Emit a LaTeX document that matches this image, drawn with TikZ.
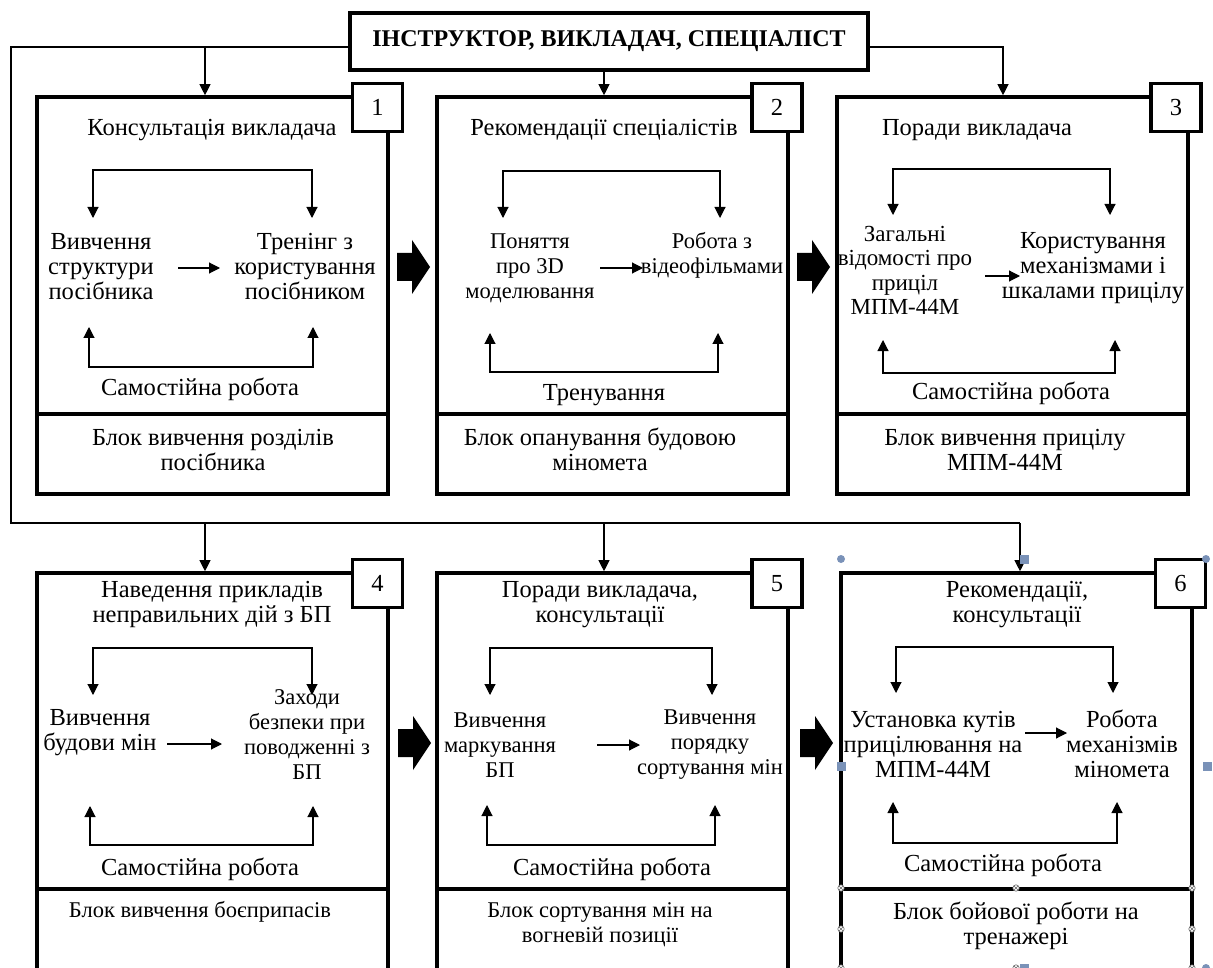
\documentclass[tikz,border=0pt]{standalone}
\usepackage{fontspec}
\setmainfont{Liberation Serif}
\usetikzlibrary{arrows.meta}
\newcommand\myfs{\fontsize{24.5}{25}\selectfont}
\newcommand\myfsb{\fontsize{22.5}{25}\selectfont}
\newcommand\myfsc{\fontsize{23}{24.3}\selectfont}
\newcommand\myfst{\fontsize{24}{25}\selectfont}
\definecolor{hcol}{RGB}{122,146,184}
\begin{document}
\begin{tikzpicture}[x=1pt,y=-1pt,
  thinl/.style={line width=1.1pt},
  arr/.style={thinl,-{Triangle[length=11pt,width=11pt]}},
  loopl/.style={thinl,{Triangle[length=11pt,width=11pt]}-{Triangle[length=11pt,width=11pt]}},
  bigbox/.style={draw,line width=3.6pt,minimum width=351pt,minimum height=397pt,inner sep=0pt},
  divl/.style={line width=3.6pt},
  numbox/.style={draw,line width=3.6pt,fill=white,minimum width=50pt,minimum height=48pt,inner sep=0pt,font=\myfs},
  txt/.style={font=\myfs,align=center,inner sep=0pt},
  txtb/.style={font=\myfsb,align=center,inner sep=0pt},
  txtc/.style={font=\myfsc,align=center,inner sep=0pt},
  titlebox/.style={draw,line width=3.6pt,minimum width=518pt,minimum height=57pt,inner sep=0pt,font=\myfst\bfseries},
  bigarrow/.style={fill=black},
  handle/.style={fill=hcol,draw=none},
  xhandle/.style={draw=black!60,fill=white,line width=0.6pt}
]
\useasboundingbox (0,0) rectangle (1213,968);
\newcommand\bigarr[2]{\fill[bigarrow] (#1,#2) ++(0,-14) -- ++(15,0) -- ++(0,-13) -- ++(18,27) -- ++(-18,27) -- ++(0,-13) -- ++(-15,0) -- cycle;}

% title
\node[titlebox] (title) at (609,41.5) {ІНСТРУКТОР, ВИКЛАДАЧ, СПЕЦІАЛІСТ};

% big boxes
\node[bigbox] (b1) at (212.5,295.5) {};
\node[bigbox] (b2) at (612.5,295.5) {};
\node[bigbox] (b3) at (1012.5,295.5) {};
\node[bigbox] (b4) at (212.5,771.5) {};
\node[bigbox] (b5) at (612.5,771.5) {};
\node[bigbox] (b6) at (1016.5,771.5) {};
\coordinate (dv1) at (0,414);
\coordinate (dv2) at (0,889);
\foreach \b in {b1,b2,b3} \draw[divl] (\b.west |- dv1) -- (\b.east |- dv1);
\foreach \b in {b4,b5,b6} \draw[divl] (\b.west |- dv2) -- (\b.east |- dv2);

% number boxes
\node[numbox] (n1) at (377.5,107.5) {1};
\node[numbox] (n2) at (777,107.5) {2};
\node[numbox] (n3) at (1176,107.5) {3};
\node[numbox] (n4) at (377.5,583.5) {4};
\node[numbox] (n5) at (777,583.5) {5};
\node[numbox] (n6) at (1180.5,583.5) {6};

% main connectors
\coordinate (cL) at (11,47);
\coordinate (cLB) at (11,523);
\coordinate (cR) at (1003,47);
\coordinate (c6) at (1020,523);
\coordinate (c1) at (205,47);
\coordinate (c2) at (604,70);
\coordinate (c4) at (205,523);
\coordinate (c5) at (604,523);
\draw[thinl] ([yshift=-5.5pt]title.west) -- (cL) -- (cLB) -- (c6);
\draw[arr] ([yshift=-5.5pt]title.east) -- (cR) -- (cR |- b3.north);
\draw[arr] (c1) -- (c1 |- b1.north);
\draw[arr] (c2 |- title.south) -- (c2 |- b2.north);
\draw[arr] (c4) -- (c4 |- b4.north);
\draw[arr] (c5) -- (c5 |- b5.north);
\draw[arr] (c6) -- (c6 |- b6.north);

% big arrows
\bigarr{397}{267}
\bigarr{797}{267}
\bigarr{398}{743}
\bigarr{800}{743}

% ---- box 1
\node[txt] (t1) at (212,130) {Консультація викладача};
\node[txt] (l1) at (101,267) {Вивчення\\структури\\посібника};
\node[txt] (r1) at (305,267) {Тренінг з\\користування\\посібником};
\node[txt] (s1) at (200,389) {Самостійна робота};
\node[txt] (f1) at (213,450) {Блок вивчення розділів\\посібника};
\coordinate (pa1) at (93,218); \coordinate (pb1) at (312,218);
\coordinate (pc1) at (89,327); \coordinate (pd1) at (313,327);
\coordinate (pe1) at (178,268); \coordinate (pf1) at (220,268);
\draw[loopl] (pa1) -- ++(0,-48) -| (pb1);
\draw[loopl] (pc1) -- ++(0,40) -| (pd1);
\draw[arr] (pe1) -- (pf1);

% ---- box 2
\node[txt] (t2) at (604,130) {Рекомендації спеціалістів};
\node[txtb] (l2) at (530,268) {Поняття\\про 3D\\моделювання};
\node[txtb] (r2) at (712,255.5) {Робота з\\відеофільмами};
\node[txt] (s2) at (604,395) {Тренування};
\node[txt] (f2) at (600,449.5) {Блок опанування будовою\\міномета};
\coordinate (pa2) at (503,218); \coordinate (pb2) at (720,218);
\coordinate (pc2) at (490,333); \coordinate (pd2) at (718,333);
\coordinate (pe2) at (600,268); \coordinate (pf2) at (643,268);
\draw[loopl] (pa2) -- ++(0,-47) -| (pb2);
\draw[loopl] (pc2) -- ++(0,39) -| (pd2);
\draw[arr] (pe2) -- (pf2);

% ---- box 3
\node[txt] (t3) at (977,130) {Поради викладача};
\node[txtc] (l3) at (905,270.5) {Загальні\\відомості про\\приціл\\МПМ-44М};
\node[txt] (r3) at (1093,268) {Користування\\механізмами і\\шкалами прицілу};
\node[txt] (s3) at (1011,393) {Самостійна робота};
\node[txt] (f3) at (1005,449.5) {Блок вивчення прицілу\\МПМ-44М};
\coordinate (pa3) at (893,215); \coordinate (pb3) at (1110,215);
\coordinate (pc3) at (883,340); \coordinate (pd3) at (1115,340);
\coordinate (pe3) at (985,276); \coordinate (pf3) at (1020,276);
\draw[loopl] (pa3) -- ++(0,-46) -| (pb3);
\draw[loopl] (pc3) -- ++(0,33) -| (pd3);
\draw[arr] (pe3) -- (pf3);

% ---- box 4
\node[txt] (t4) at (212,604.5) {Наведення прикладів\\неправильних дій з БП};
\node[txt] (l4) at (100,732.5) {Вивчення\\будови мін};
\node[txtb] (r4) at (307,734.5) {Заходи\\безпеки при\\поводженні з\\БП};
\node[txt] (s4) at (200,869) {Самостійна робота};
\node[txtb] (f4) at (200,912) {Блок вивчення боєприпасів};
\coordinate (pa4) at (93,695); \coordinate (pb4) at (312,695);
\coordinate (pc4) at (90,806); \coordinate (pd4) at (313,806);
\coordinate (pe4) at (167,744); \coordinate (pf4) at (222,744);
\draw[loopl] (pa4) -- ++(0,-47) -| (pb4);
\draw[loopl] (pc4) -- ++(0,39) -| (pd4);
\draw[arr] (pe4) -- (pf4);

% ---- box 5
\node[txt] (t5) at (600,604.5) {Поради викладача,\\консультації};
\node[txtb] (l5) at (500,745) {Вивчення\\маркування\\БП};
\node[txtb] (r5) at (710,745) {Вивчення\\порядку\\сортування мін};
\node[txt] (s5) at (612,869) {Самостійна робота};
\node[txtb] (f5) at (600,924.5) {Блок сортування мін на\\вогневій позиції};
\coordinate (pa5) at (490,695); \coordinate (pb5) at (712,695);
\coordinate (pc5) at (487,805); \coordinate (pd5) at (715,805);
\coordinate (pe5) at (597,745); \coordinate (pf5) at (640,745);
\draw[loopl] (pa5) -- ++(0,-47) -| (pb5);
\draw[loopl] (pc5) -- ++(0,40) -| (pd5);
\draw[arr] (pe5) -- (pf5);

% ---- box 6
\node[txt] (t6) at (1017,605) {Рекомендації,\\консультації};
\node[txt] (l6) at (933,744) {Установка кутів\\прицілювання на\\МПМ-44М};
\node[txt] (r6) at (1122,744) {Робота\\механізмів\\міномета};
\node[txt] (s6) at (1003,865) {Самостійна робота};
\node[txt] (f6) at (1016,925.5) {Блок бойової роботи на\\тренажері};
\coordinate (pa6) at (896,693); \coordinate (pb6) at (1113,693);
\coordinate (pc6) at (893,802); \coordinate (pd6) at (1117,802);
\coordinate (pe6) at (1025,733); \coordinate (pf6) at (1067,733);
\draw[loopl] (pa6) -- ++(0,-46) -| (pb6);
\draw[loopl] (pc6) -- ++(0,41) -| (pd6);
\draw[arr] (pe6) -- (pf6);

% selection handles on box 6
\foreach \p in {(841,559),(1206,559),(1206,968)} \fill[handle] \p circle (4);
\foreach \p in {(1024,559),(841,766),(1207,766),(1024,968)} \fill[handle] \p ++(-4.5,-4.5) rectangle ++(9,9);
\foreach \p in {(841,888),(1016,888),(1192,888),(841,929),(1192,929),(841,968),(1016,968),(1192,968)}
  \draw[xhandle] \p circle (3.2) \p ++(-2.2,-2.2) -- ++(4.4,4.4) \p ++(-2.2,2.2) -- ++(4.4,-4.4);
\end{tikzpicture}
\end{document}
